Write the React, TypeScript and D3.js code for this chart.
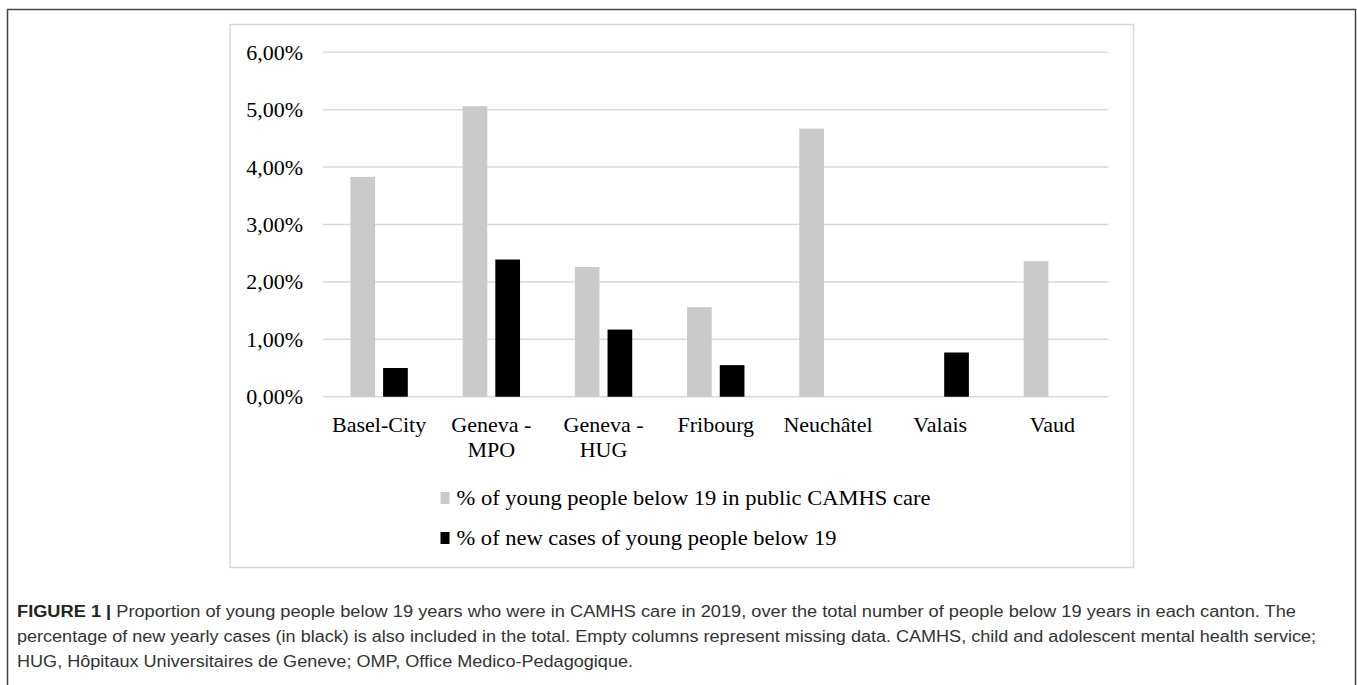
import React, { useEffect, useRef } from "react";
import { select, scaleBand, scaleLinear, axisLeft, axisBottom } from "d3";

const categories = ["Basel-City", "Geneva - MPO", "Geneva - HUG", "Fribourg", "Neuchâtel", "Valais", "Vaud"];
const careValues: (number | null)[] = [3.83, 5.06, 2.26, 1.56, 4.67, null, 2.36];
const newCaseValues: (number | null)[] = [0.5, 2.39, 1.17, 0.55, null, 0.77, null];
const yTicks = [0, 1, 2, 3, 4, 5, 6];
const seriesNames = [
  "% of young people below 19 in public CAMHS care",
  "% of new cases of young people below 19",
];
const seriesColors = ["#cbcaca", "#000000"];
const captionLines = [
  "Proportion of young people below 19 years who were in CAMHS care in 2019, over the total number of people below 19 years in each canton. The",
  "percentage of new yearly cases (in black) is also included in the total. Empty columns represent missing data. CAMHS, child and adolescent mental health service;",
  "HUG, Hôpitaux Universitaires de Geneve; OMP, Office Medico-Pedagogique.",
];

const W = 1357;
const H = 685;
const serif = "'Liberation Serif', 'Times New Roman', serif";
const sans = "'Liberation Sans', Arial, sans-serif";

export default function App() {
  const svgRef = useRef<SVGSVGElement>(null);

  useEffect(() => {
    const svg = select(svgRef.current!);
    svg.selectAll("*").remove();

    // outer figure frame (top, left, right)
    svg.append("path")
      .attr("d", `M7.5,${H} V9.5 H1355.5 V${H}`)
      .attr("fill", "none")
      .attr("stroke", "#444")
      .attr("stroke-width", 1.5);

    // chart area frame
    svg.append("rect")
      .attr("x", 230).attr("y", 24.5)
      .attr("width", 903.5).attr("height", 543)
      .attr("fill", "#fff")
      .attr("stroke", "#d9d9d9")
      .attr("stroke-width", 1.5);

    const left = 323, right = 1108.5, top = 52.3, bottom = 396.7;

    const y = scaleLinear().domain([0, 6]).range([bottom, top]);
    const x0 = scaleBand().domain(categories).range([left, right]).padding(0);
    const x1 = scaleBand().domain(["care", "new"]).range([0, x0.bandwidth()])
      .paddingInner(0.245).paddingOuter(0.838);

    // gridlines
    const grid = svg.append("g");
    grid.selectAll("line").data(yTicks).join("line")
      .attr("x1", left).attr("x2", right)
      .attr("y1", (d) => y(d)).attr("y2", (d) => y(d))
      .attr("stroke", "#d9d9d9").attr("stroke-width", 1.5);

    // y axis labels
    const yAxis = svg.append("g")
      .attr("transform", `translate(${left},0)`)
      .call(axisLeft(y).tickValues(yTicks).tickSize(0).tickPadding(20)
        .tickFormat((d) => (d as number).toFixed(2).replace(".", ",") + "%"));
    yAxis.select(".domain").remove();
    yAxis.selectAll("text")
      .attr("font-family", serif).attr("font-size", 22).attr("fill", "#000");

    // bars
    const rows = categories.map((c, i) => ({ c, care: careValues[i], new: newCaseValues[i] }));
    const keys: ("care" | "new")[] = ["care", "new"];
    keys.forEach((k, ki) => {
      svg.append("g").attr("fill", seriesColors[ki])
        .selectAll("rect")
        .data(rows.filter((r) => r[k] != null))
        .join("rect")
        .attr("x", (r) => x0(r.c)! + x1(k)!)
        .attr("width", x1.bandwidth())
        .attr("y", (r) => y(r[k] as number))
        .attr("height", (r) => y(0) - y(r[k] as number));
    });

    // x axis labels
    const xAxis = svg.append("g")
      .attr("transform", `translate(0,${bottom})`)
      .call(axisBottom(x0).tickSize(0).tickFormat(() => ""));
    xAxis.select(".domain").remove();
    xAxis.selectAll<SVGGElement, string>(".tick").each(function (d) {
      const t = select(this).select("text")
        .attr("font-family", serif).attr("font-size", 22).attr("fill", "#000")
        .attr("y", 35).attr("dy", null);
      const parts = d.includes(" - ") ? [d.split(" - ")[0] + " -", d.split(" - ")[1]] : [d];
      parts.forEach((p, i) => {
        t.append("tspan").attr("x", 0).attr("dy", i === 0 ? 0 : 25.5).text(p);
      });
    });

    // legend
    const legend = svg.append("g");
    const legendWidths = [474, 380];
    seriesNames.forEach((name, i) => {
      const ly = 505 + i * 40;
      legend.append("rect")
        .attr("x", 440.5).attr("y", ly - 13)
        .attr("width", 9).attr("height", 12)
        .attr("fill", seriesColors[i]);
      legend.append("text")
        .attr("x", 456.5).attr("y", ly)
        .attr("font-family", serif).attr("font-size", 22).attr("fill", "#000")
        .attr("textLength", legendWidths[i]).attr("lengthAdjust", "spacingAndGlyphs")
        .text(name);
    });

    // caption
    const cap = svg.append("g").attr("font-family", sans).attr("font-size", 16).attr("fill", "#333");
    const widths = [1279, 1299, 616];
    captionLines.forEach((line, i) => {
      const t = cap.append("text")
        .attr("x", 17).attr("y", 617 + i * 25)
        .attr("textLength", widths[i]).attr("lengthAdjust", "spacingAndGlyphs");
      if (i === 0) {
        t.append("tspan").attr("font-weight", "bold").attr("fill", "#222").text("FIGURE 1 | ");
      }
      t.append("tspan").text(line);
    });
  }, []);

  return (
    <svg
      ref={svgRef}
      width={W}
      height={H}
      style={{ position: "absolute", left: 0, top: 0, background: "#fff" }}
    />
  );
}
